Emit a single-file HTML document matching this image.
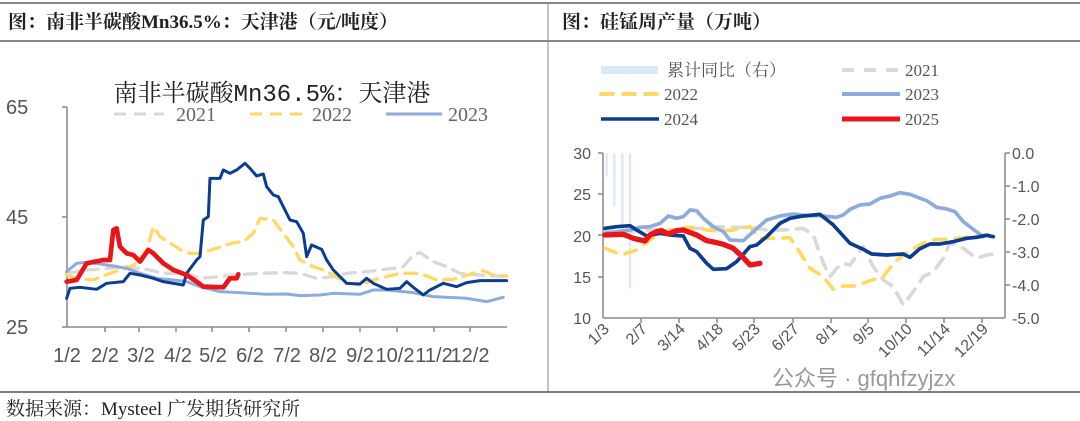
<!DOCTYPE html>
<html><head><meta charset="utf-8"><style>
body{margin:0;background:#fff;width:1080px;height:421px;overflow:hidden;font-family:"Liberation Serif","Noto Serif CJK SC",serif}
</style></head><body>
<svg width="1080" height="421" xmlns="http://www.w3.org/2000/svg" style="position:absolute;left:0;top:0">
<line x1="0" y1="3" x2="1080" y2="3" stroke="#888" stroke-width="2"/>
<line x1="0" y1="41" x2="1080" y2="41" stroke="#888" stroke-width="2"/>
<line x1="548" y1="3" x2="548" y2="392" stroke="#888" stroke-width="1"/>
<line x1="0" y1="392" x2="1080" y2="392" stroke="#555" stroke-width="1.5"/>
<text x="8" y="28" font-size="19" font-weight="bold" fill="#222" font-family="Liberation Serif,Noto Serif CJK SC,serif">图：南非半碳酸Mn36.5%：天津港（元/吨度）</text>
<text x="562" y="28" font-size="19" font-weight="bold" fill="#222" font-family="Liberation Serif,Noto Serif CJK SC,serif">图：硅锰周产量（万吨）</text>
<text x="6" y="415" font-size="19" fill="#222" font-family="Liberation Serif,Noto Serif CJK SC,serif">数据来源：Mysteel  广发期货研究所</text>
<text x="772" y="386" font-size="22" fill="#999" font-family="Liberation Sans,Noto Sans CJK SC,sans-serif">公众号 · gfqhfzyjzx</text>

<!-- LEFT CHART -->
<text x="272" y="101" font-size="24" text-anchor="middle" fill="#222" font-family="Liberation Mono,Noto Serif CJK SC,monospace">南非半碳酸Mn36.5%：天津港</text>
<g font-family="Liberation Serif,serif" font-size="20" fill="#666">
<line x1="114" y1="114" x2="164" y2="114" stroke="#d9d9d9" stroke-width="3" stroke-dasharray="12,8"/><text x="176" y="121">2021</text>
<line x1="250" y1="114" x2="306" y2="114" stroke="#ffd966" stroke-width="3" stroke-dasharray="12,8"/><text x="312" y="121">2022</text>
<line x1="386" y1="114" x2="442" y2="114" stroke="#8faadc" stroke-width="3"/><text x="448" y="121">2023</text>
</g>
<g font-family="Liberation Sans,sans-serif" font-size="20" fill="#555">
<text x="6" y="114">65</text><text x="6" y="224">45</text><text x="6" y="334">25</text>
<text x="67" y="362" text-anchor="middle">1/2</text><text x="105" y="362" text-anchor="middle">2/2</text><text x="141" y="362" text-anchor="middle">3/2</text><text x="178" y="362" text-anchor="middle">4/2</text><text x="213" y="362" text-anchor="middle">5/2</text><text x="250" y="362" text-anchor="middle">6/2</text><text x="287" y="362" text-anchor="middle">7/2</text><text x="323" y="362" text-anchor="middle">8/2</text><text x="360" y="362" text-anchor="middle">9/2</text><text x="395" y="362" text-anchor="middle">10/2</text><text x="434" y="362" text-anchor="middle">11/2</text><text x="470" y="362" text-anchor="middle">12/2</text>
</g>
<g stroke="#888" stroke-width="1.5">
<line x1="67" y1="107" x2="67" y2="327"/><line x1="67" y1="327" x2="507" y2="327"/>
<line x1="62" y1="107" x2="67" y2="107"/><line x1="62" y1="217" x2="67" y2="217"/><line x1="62" y1="327" x2="67" y2="327"/>
<line x1="105" y1="327" x2="105" y2="332"/><line x1="139" y1="327" x2="139" y2="332"/><line x1="176" y1="327" x2="176" y2="332"/><line x1="212" y1="327" x2="212" y2="332"/><line x1="249" y1="327" x2="249" y2="332"/><line x1="286" y1="327" x2="286" y2="332"/><line x1="323" y1="327" x2="323" y2="332"/><line x1="360" y1="327" x2="360" y2="332"/><line x1="397" y1="327" x2="397" y2="332"/><line x1="434" y1="327" x2="434" y2="332"/><line x1="470" y1="327" x2="470" y2="332"/>
</g>
<g transform="translate(0,60) scale(0.3333)" fill="none" stroke-linejoin="round" stroke-linecap="round">
<polyline stroke="#d9d9d9" stroke-width="10" stroke-dasharray="36,24" points="200,640 260,630 330,625 380,620 450,630 490,640 560,640 600,655 660,650 700,645 780,640 850,638 900,640 950,655 1000,650 1040,640 1100,635 1180,625 1210,620 1240,585 1260,578 1300,605 1340,620 1380,640 1440,645 1520,650"/>
<polyline stroke="#ffd966" stroke-width="10" stroke-dasharray="36,24" points="200,645 230,655 280,660 330,640 380,625 410,610 440,570 460,500 480,530 520,555 550,575 570,580 600,580 650,565 700,548 730,545 760,520 780,475 820,480 850,520 880,560 900,600 940,620 970,630 1000,645 1040,670 1080,675 1120,660 1200,640 1260,640 1310,660 1360,658 1420,640 1450,632 1480,645 1520,648"/>
<polyline stroke="#8faadc" stroke-width="9" points="200,635 230,610 260,607 300,612 340,618 380,625 420,640 470,655 520,660 560,665 600,680 660,695 720,698 800,703 860,702 900,707 960,705 1000,700 1080,703 1120,690 1160,690 1240,698 1300,710 1400,715 1460,725 1510,712"/>
<polyline stroke="#0a3d8f" stroke-width="9" points="200,715 210,685 240,682 290,688 320,670 370,665 390,640 420,645 460,655 490,665 550,675 560,640 590,600 600,590 610,480 625,470 630,355 660,355 670,330 690,340 710,330 735,310 750,325 770,348 790,342 800,380 820,405 835,410 870,480 890,485 910,520 920,590 935,555 965,568 980,600 1000,630 1040,670 1080,672 1100,655 1120,670 1160,688 1200,685 1220,665 1240,682 1270,705 1290,690 1330,670 1370,680 1400,668 1440,662 1520,662"/>
<polyline stroke="#e8161b" stroke-width="14" points="200,665 230,660 260,610 310,600 330,600 340,510 350,505 360,560 380,580 400,585 420,605 445,570 460,580 490,610 520,630 560,645 590,665 610,680 670,682 690,655 710,655 715,643"/>
</g>

<!-- RIGHT CHART -->
<g font-family="Liberation Serif,Noto Serif CJK SC,serif" font-size="17" fill="#555">
<rect x="601" y="66" width="57" height="8" fill="#dde8f5"/><text x="667" y="76">累计同比（右）</text>
<line x1="842" y1="70" x2="900" y2="70" stroke="#d9d9d9" stroke-width="4" stroke-dasharray="12,10"/><text x="905" y="76">2021</text>
<line x1="601" y1="94" x2="659" y2="94" stroke="#ffd966" stroke-width="4" stroke-dasharray="12,10" stroke-linecap="round"/><text x="664" y="100">2022</text>
<line x1="842" y1="94" x2="900" y2="94" stroke="#8faadc" stroke-width="4"/><text x="905" y="100">2023</text>
<line x1="601" y1="119" x2="659" y2="119" stroke="#0a3d8f" stroke-width="3.5"/><text x="664" y="125">2024</text>
<line x1="842" y1="119" x2="900" y2="119" stroke="#e8161b" stroke-width="5"/><text x="905" y="125">2025</text>
</g>
<g font-family="Liberation Sans,sans-serif" font-size="16" fill="#555">
<text x="591" y="159" text-anchor="end">30</text><text x="591" y="200" text-anchor="end">25</text><text x="591" y="242" text-anchor="end">20</text><text x="591" y="283" text-anchor="end">15</text><text x="591" y="324" text-anchor="end">10</text>
<text x="1012" y="159">0.0</text><text x="1012" y="192">-1.0</text><text x="1012" y="225">-2.0</text><text x="1012" y="258">-3.0</text><text x="1012" y="291">-4.0</text><text x="1012" y="324">-5.0</text>
<g text-anchor="end">
<text transform="translate(610,330) rotate(-45)">1/3</text><text transform="translate(648,330) rotate(-45)">2/7</text><text transform="translate(686,330) rotate(-45)">3/14</text><text transform="translate(724,330) rotate(-45)">4/18</text><text transform="translate(761,330) rotate(-45)">5/23</text><text transform="translate(800,330) rotate(-45)">6/27</text><text transform="translate(838,330) rotate(-45)">8/1</text><text transform="translate(875,330) rotate(-45)">9/5</text><text transform="translate(913,330) rotate(-45)">10/10</text><text transform="translate(951,330) rotate(-45)">11/14</text><text transform="translate(989,330) rotate(-45)">12/19</text>
</g></g>
<g stroke="#888" stroke-width="1.5">
<line x1="603" y1="153" x2="603" y2="318"/><line x1="603" y1="318" x2="1005" y2="318"/><line x1="1005" y1="153" x2="1005" y2="318"/>
<line x1="598" y1="153" x2="603" y2="153"/><line x1="598" y1="194" x2="603" y2="194"/><line x1="598" y1="235" x2="603" y2="235"/><line x1="598" y1="277" x2="603" y2="277"/>
<line x1="1005" y1="153" x2="1010" y2="153"/><line x1="1005" y1="186" x2="1010" y2="186"/><line x1="1005" y1="219" x2="1010" y2="219"/><line x1="1005" y1="252" x2="1010" y2="252"/><line x1="1005" y1="285" x2="1010" y2="285"/>
<line x1="641" y1="318" x2="641" y2="323"/><line x1="679" y1="318" x2="679" y2="323"/><line x1="717" y1="318" x2="717" y2="323"/><line x1="754" y1="318" x2="754" y2="323"/><line x1="793" y1="318" x2="793" y2="323"/><line x1="831" y1="318" x2="831" y2="323"/><line x1="868" y1="318" x2="868" y2="323"/><line x1="906" y1="318" x2="906" y2="323"/><line x1="944" y1="318" x2="944" y2="323"/><line x1="982" y1="318" x2="982" y2="323"/>
</g>
<g transform="translate(550,130) scale(0.3333)" fill="none" stroke-linejoin="round" stroke-linecap="round">
<g stroke="#dde8f5" stroke-width="7" stroke-linecap="butt">
<line x1="170" y1="70" x2="170" y2="140"/><line x1="193" y1="70" x2="193" y2="228"/><line x1="217" y1="70" x2="217" y2="320"/><line x1="240" y1="70" x2="240" y2="475"/></g>
<polyline stroke="#d9d9d9" stroke-width="11" stroke-dasharray="36,28" points="165,305 220,305 300,300 370,300 450,295 500,290 560,292 600,292 650,300 700,300 760,295 790,315 820,400 840,440 860,415 880,400 900,405 940,350 970,410 1000,450 1030,470 1060,525 1090,485 1120,440 1150,425 1180,385 1200,338 1240,355 1280,385 1310,375 1350,370"/>
<polyline stroke="#ffd966" stroke-width="11" stroke-dasharray="36,28" points="165,355 215,375 260,360 300,330 340,305 380,297 420,292 470,300 510,303 550,300 600,290 630,325 660,325 720,323 745,360 780,415 820,440 850,478 880,468 920,468 960,452 1000,440 1030,400 1070,368 1110,345 1140,330 1180,328 1220,325 1290,318 1340,310"/>
<polyline stroke="#8faadc" stroke-width="11" points="165,310 200,305 240,300 270,292 300,290 330,280 355,258 380,265 400,260 420,240 440,242 460,265 490,290 520,305 540,330 580,332 610,305 650,270 690,258 730,252 770,257 810,257 860,262 880,255 900,238 930,225 960,222 990,205 1020,198 1050,188 1080,193 1130,212 1160,232 1190,237 1215,245 1240,275 1270,298 1300,320"/>
<polyline stroke="#0a3d8f" stroke-width="11" points="165,295 200,290 240,287 260,300 290,318 330,310 360,315 400,318 420,355 440,365 470,400 490,418 530,416 560,395 600,350 620,345 650,320 690,280 720,265 760,258 810,253 850,285 900,340 940,358 965,372 1010,375 1060,372 1080,382 1110,356 1140,342 1170,342 1210,335 1250,325 1280,322 1310,316 1330,320"/>
<polyline stroke="#e8161b" stroke-width="16" points="165,315 220,313 250,325 285,333 300,315 320,305 335,302 355,312 380,302 400,300 440,315 470,332 500,338 520,343 550,355 575,378 600,405 630,400"/>
</g>
</svg>
</body></html>
